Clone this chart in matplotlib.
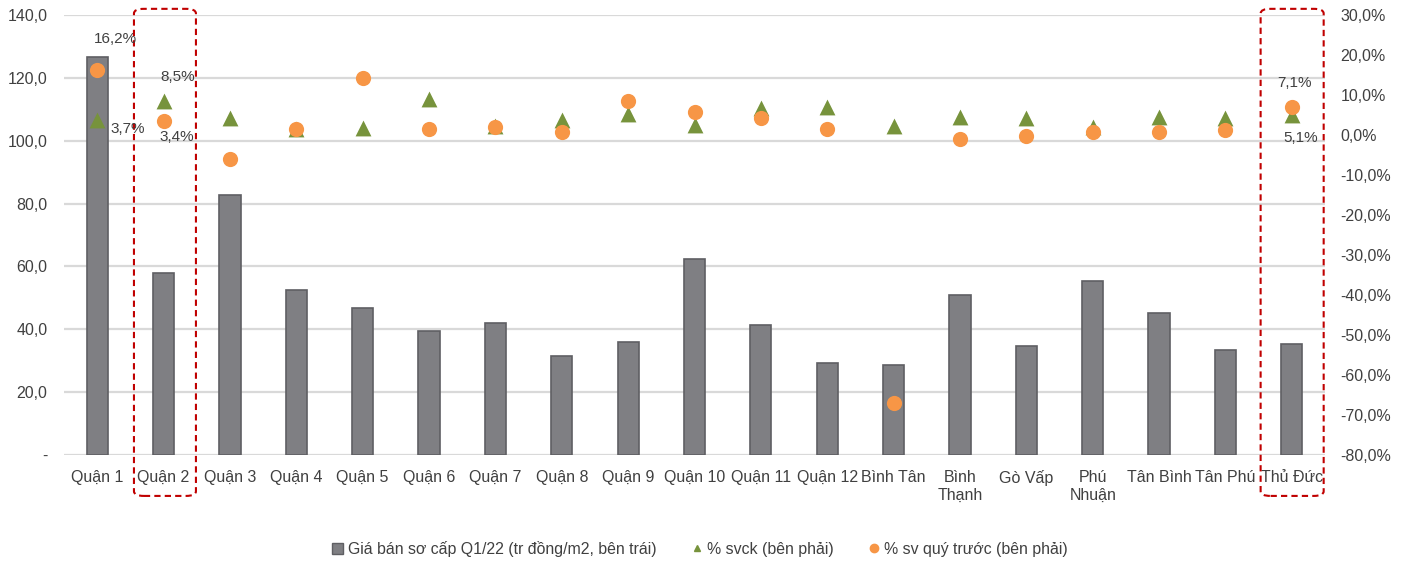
import matplotlib.pyplot as plt
import matplotlib.transforms as mtransforms
from matplotlib.patches import FancyBboxPatch
from matplotlib.lines import Line2D
from matplotlib.patches import Patch
import numpy as np

plt.rcParams['font.family'] = ['Liberation Sans', 'DejaVu Sans']

districts = ['Quận 1', 'Quận 2', 'Quận 3', 'Quận 4', 'Quận 5', 'Quận 6', 'Quận 7',
             'Quận 8', 'Quận 9', 'Quận 10', 'Quận 11', 'Quận 12', 'Bình Tân',
             'Bình\nThạnh', 'Gò Vấp', 'Phú\nNhuận', 'Tân Bình', 'Tân Phú', 'Thủ Đức']
price = [126.7, 57.8, 82.6, 52.5, 46.8, 39.6, 42.0, 31.5, 35.8, 62.4, 41.5, 29.2,
         28.7, 51.0, 34.8, 55.3, 45.2, 33.4, 35.3]
yoy = [3.7, 8.5, 4.2, 1.6, 1.8, 9.0, 2.2, 3.8, 5.2, 2.5, 6.8, 6.9, 2.3, 4.6, 4.2,
       2.1, 4.6, 4.2, 5.1]
qoq = [16.2, 3.4, -6.0, 1.5, 14.2, 1.6, 1.9, 0.8, 8.6, 5.7, 4.2, 1.5, -66.9, -1.1,
       -0.3, 0.7, 0.7, 1.2, 7.1]

bar_color = '#7f7f83'
green = '#77933c'
orange = '#f79646'
txt = '#404040'

fig = plt.figure(figsize=(14.05, 5.62), dpi=100, facecolor='w')
ax = fig.add_axes([64 / 1405, 1 - 455 / 562, (1325 - 64) / 1405, 440 / 562])
ax2 = ax.twinx()

x = np.arange(len(districts))
ax.bar(x, price, width=0.32, color=bar_color, edgecolor='#5f5f63', linewidth=1.2, zorder=2)
ax.set_xlim(-0.5, len(districts) - 0.5)
ax.set_ylim(0, 140)
ax.set_yticks(np.arange(0, 141, 20))
ax.set_yticklabels(['-'] + ['%d,0' % v for v in range(20, 141, 20)])
ax.yaxis.grid(True, color='#d9d9d9', linewidth=1.6, zorder=0)
ax.set_axisbelow(True)
ax.set_xticks(x)
ax.set_xticklabels(districts, fontsize=11.5, color=txt, linespacing=1.25)

ax2.scatter(x, yoy, marker='^', s=130, color=green, zorder=3, linewidths=0)
ax2.scatter(x, qoq, marker='o', s=120, color=orange, zorder=4, linewidths=0)
ax2.set_ylim(-80, 30)
ax2.set_yticks(np.arange(-80, 31, 10))
ax2.set_yticklabels(['%d,0%%' % v for v in range(-80, 31, 10)])

for a in (ax, ax2):
    for s in a.spines.values():
        s.set_visible(False)
    a.tick_params(length=0, labelsize=11.5, labelcolor=txt)
ax.tick_params(axis='y', pad=12)
ax.tick_params(axis='x', pad=11)
ax2.tick_params(axis='y', pad=11)

# value labels for the highlighted districts
def pct(v):
    return ('%.1f%%' % v).replace('.', ',')

lab = dict(fontsize=11, color=txt, ha='center', va='center', zorder=5)
ax2.annotate(pct(qoq[0]), (0, qoq[0]), xytext=(18, 31), textcoords='offset pixels', **lab)
ax2.annotate(pct(yoy[0]), (0, yoy[0]), xytext=(31, -9), textcoords='offset pixels', **lab)
ax2.annotate(pct(yoy[1]), (1, yoy[1]), xytext=(14, 24), textcoords='offset pixels', **lab)
ax2.annotate(pct(qoq[1]), (1, qoq[1]), xytext=(13, -16), textcoords='offset pixels', **lab)
ax2.annotate(pct(qoq[18]), (18, qoq[18]), xytext=(3, 24), textcoords='offset pixels', **lab)
ax2.annotate(pct(yoy[18]), (18, yoy[18]), xytext=(9, -23), textcoords='offset pixels', **lab)

# dashed highlight frames
trans = mtransforms.blended_transform_factory(ax.transData, ax.transAxes)
for x0, x1 in [(0.554, 1.488), (17.53, 18.48)]:
    box = FancyBboxPatch((x0, -0.093), x1 - x0, 1.107, boxstyle='round,pad=0,rounding_size=0.15',
                         mutation_aspect=0.07, transform=trans, fill=False,
                         edgecolor='#c00000', linestyle=(0, (3, 2)), linewidth=1.5,
                         clip_on=False, zorder=6)
    ax.add_patch(box)

handles = [Patch(facecolor=bar_color, edgecolor='#5f5f63'),
           Line2D([], [], marker='^', color=green, linestyle='none', markersize=5),
           Line2D([], [], marker='o', color=orange, linestyle='none', markersize=6)]
labels = ['Giá bán sơ cấp Q1/22 (tr đồng/m2, bên trái)', '% svck (bên phải)',
          '% sv quý trước (bên phải)']
fig.legend(handles, labels, loc='center', bbox_to_anchor=(700 / 1405, 1 - 549 / 562),
           ncol=3, frameon=False, fontsize=11.4, labelcolor=txt, handlelength=0.7,
           handletextpad=0.3, columnspacing=2.2)

fig.savefig('out.png', dpi=100)
